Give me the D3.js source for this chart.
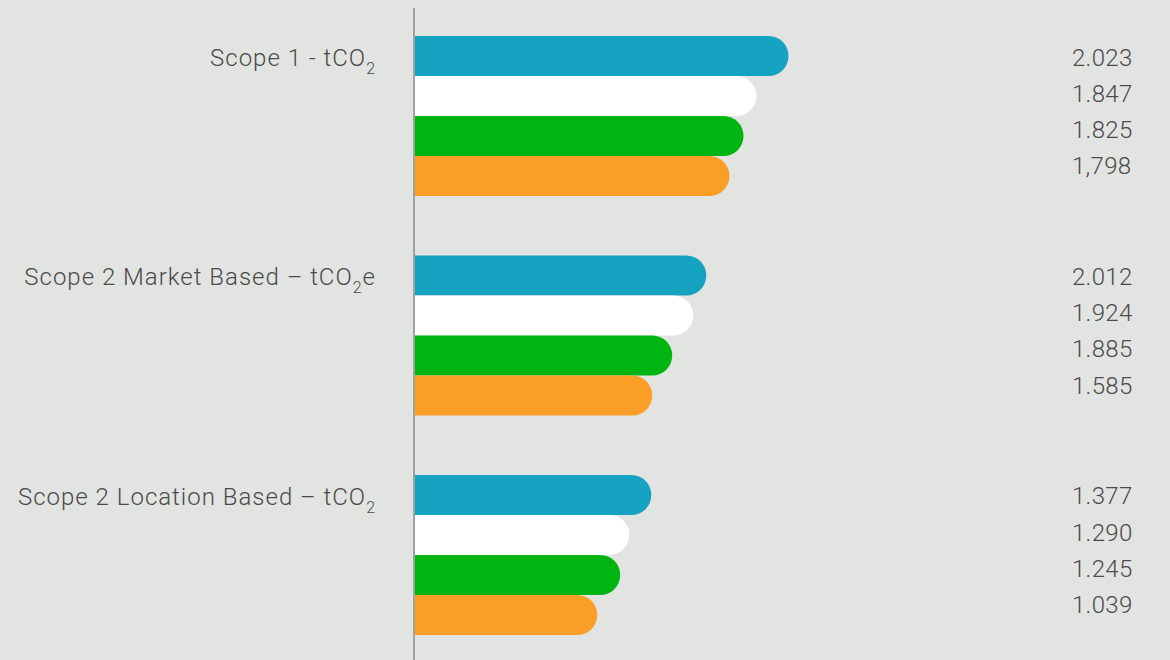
<!DOCTYPE html>
<html>
<head>
<meta charset="utf-8">
<script src="https://cdn.jsdelivr.net/npm/d3@7"></script>
<style>
  html, body { margin: 0; padding: 0; background: #e2e4e1; }
  svg { display: block; }
  text { font-family: Roboto, "Open Sans", sans-serif; font-weight: 300; fill: #4a4a4a; }
</style>
</head>
<body>
<div id="chart"></div>
<script>
// ---- data ----
const categories = ["Scope 1", "Scope 2 Market Based", "Scope 2 Location Based"];
const categoryLabels = [
  [{t: "Scope 1 - tCO"}, {t: "2", sub: true}],
  [{t: "Scope 2 Market Based \u2013 tCO"}, {t: "2", sub: true}, {t: "e"}],
  [{t: "Scope 2 Location Based \u2013 tCO"}, {t: "2", sub: true}]
];
const series = ["s1", "s2", "s3", "s4"];
const seriesColors = ["#16a2c1", "#ffffff", "#00b512", "#fb9e28"];
// bar lengths (axis units)
const barScope1   = [2.023, 1.850, 1.780, 1.704];
const barMarket   = [1.579, 1.509, 1.395, 1.287];
const barLocation = [1.282, 1.163, 1.114, 0.990];
// printed value labels
const labelScope1   = ["2.023", "1.847", "1.825", "1,798"];
const labelMarket   = ["2.012", "1.924", "1.885", "1.585"];
const labelLocation = ["1.377", "1.290", "1.245", "1.039"];

const barValues = [barScope1, barMarket, barLocation];
const valueLabels = [labelScope1, labelMarket, labelLocation];

// ---- layout ----
const W = 1170, H = 660;
const svg = d3.select("#chart").append("svg").attr("width", W).attr("height", H);
svg.append("rect").attr("width", W).attr("height", H).attr("fill", "#e2e4e1");

const x = d3.scaleLinear().domain([0, 2.023]).range([414, 788.5]);
const yGroup = d3.scaleBand().domain(categories).range([36, 635]).paddingInner(0.271).paddingOuter(0);
const ySeries = d3.scaleBand().domain(series).range([0, yGroup.bandwidth()]).padding(0);

function barPath(x0, x1, y0, h) {
  const rr = Math.min(h / 2, (x1 - x0));
  return `M${x0},${y0} H${x1 - rr} A${rr},${rr} 0 0 1 ${x1 - rr},${y0 + h} H${x0} Z`;
}

categories.forEach((cat, ci) => {
  const g = svg.append("g").attr("transform", `translate(0,${yGroup(cat)})`);
  g.selectAll("path.bar")
    .data(barValues[ci])
    .join("path")
    .attr("class", "bar")
    .attr("fill", (d, i) => seriesColors[i])
    .attr("d", (d, i) => barPath(x(0) + 1, x(d), ySeries(series[i]), ySeries.bandwidth()));

  // category label
  const t = g.append("text")
    .attr("x", 376)
    .attr("y", 30)
    .attr("text-anchor", "end")
    .attr("font-size", 24)
    .attr("letter-spacing", 1);
  categoryLabels[ci].forEach((p, k) => {
    const ts = t.append("tspan").text(p.t);
    if (p.sub) ts.attr("font-size", 16).attr("dy", 8);
    else if (k > 0 && categoryLabels[ci][k - 1].sub) ts.attr("dy", -8);
  });

  // value labels
  g.selectAll("text.val")
    .data(valueLabels[ci])
    .join("text")
    .attr("class", "val")
    .attr("x", 1072)
    .attr("y", (d, i) => 29.5 + i * 36.2)
    .attr("font-size", 24)
    .attr("letter-spacing", 0.3)
    .text(d => d);
});

// axis line
svg.append("line")
  .attr("x1", x(0)).attr("x2", x(0))
  .attr("y1", 8).attr("y2", H)
  .attr("stroke", "#8a8c8a").attr("stroke-width", 1.5);
</script>
</body>
</html>
